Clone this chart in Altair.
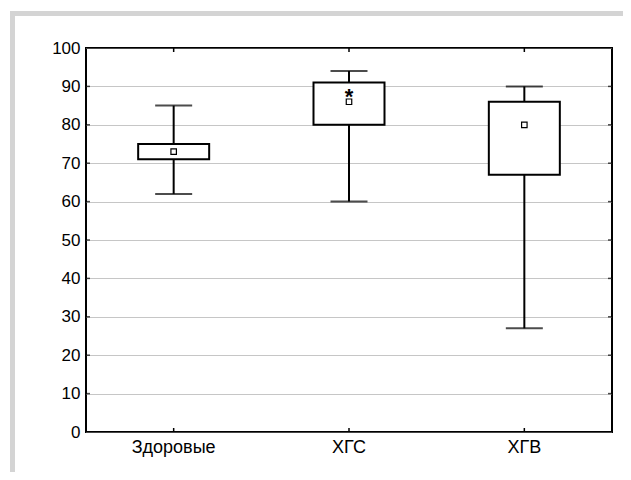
import altair as alt
import pandas as pd

groups = ["Здоровые", "ХГС", "ХГВ"]
whisk_lo = [62, 60, 27]
box_lo = [71, 80, 67]
box_hi = [75, 91, 86]
whisk_hi = [85, 94, 90]
median = [73, 86, 80]
star_group = ["ХГС"]
star_value = [88.5]
y_ticks = [0, 10, 20, 30, 40, 50, 60, 70, 80, 90, 100]

df = pd.DataFrame({"g": groups, "wlo": whisk_lo, "blo": box_lo, "bhi": box_hi,
                   "whi": whisk_hi, "med": median})
star_df = pd.DataFrame({"g": star_group, "v": star_value})
tick_df = pd.DataFrame({"t": y_ticks[1:-1]})

W, H = 526, 384
FONT = "Liberation Sans"

xaxis = alt.Axis(labelAngle=0, labelFontSize=18, labelFont=FONT, labelColor="black",
                 ticks=False, domain=False, labelPadding=6)
xscale = alt.Scale(paddingInner=0, paddingOuter=0)
yscale = alt.Scale(domain=[0, 100], nice=False)
yaxis = alt.Axis(values=y_ticks, labelFontSize=17, labelFont=FONT, labelColor="black",
                 ticks=False, domain=False, labelPadding=6, grid=True,
                 gridColor="#8c8c8c", gridDash=[1, 1], gridWidth=1, labelOverlap=False)


def X():
    return alt.X("g:N", sort=groups, title=None, scale=xscale, axis=xaxis)


def Y(field):
    return alt.Y(field, scale=yscale, axis=yaxis, title=None)


base = alt.Chart(df)

whisk = base.mark_rule(color="black", strokeWidth=2).encode(
    x=X(), y=Y("wlo:Q"), y2="whi:Q")
caps_lo = base.mark_tick(color="black", size=37, thickness=2).encode(x=X(), y=Y("wlo:Q"))
caps_hi = base.mark_tick(color="black", size=37, thickness=2).encode(x=X(), y=Y("whi:Q"))
boxes = base.mark_bar(size=71, fill="white", stroke="black", strokeWidth=2).encode(
    x=X(), y=Y("blo:Q"), y2="bhi:Q")
meds = base.mark_square(size=30, filled=True, fill="white", stroke="black",
                        strokeWidth=1.2, opacity=1).encode(x=X(), y=Y("med:Q"))
star = alt.Chart(star_df).mark_text(text="*", fontSize=22, font=FONT, fontWeight="bold",
                                    color="black", dy=5).encode(x=X(), y=Y("v:Q"))

ticks_l = alt.Chart(tick_df).mark_tick(color="black", size=4, thickness=1.5).encode(
    x=alt.value(2), y=Y("t:Q"))
ticks_r = alt.Chart(tick_df).mark_tick(color="black", size=4, thickness=1.5).encode(
    x=alt.value(W - 2), y=Y("t:Q"))
xt = pd.DataFrame({"g": groups})
xticks_b = alt.Chart(xt).mark_rule(color="black", strokeWidth=1.5).encode(
    x=X(), y=alt.value(H - 4), y2=alt.value(H))
xticks_t = alt.Chart(xt).mark_rule(color="black", strokeWidth=1.5).encode(
    x=X(), y=alt.value(0), y2=alt.value(4))

border_top = alt.Chart(xt).mark_rule(color="#d4d4d4", strokeWidth=5).encode(
    x=alt.value(-76), x2=alt.value(560), y=alt.value(-34.5))
border_left = alt.Chart(xt).mark_rule(color="#d4d4d4", strokeWidth=5).encode(
    x=alt.value(-73.5), y=alt.value(-37), y2=alt.value(470))

chart = alt.layer(
    border_top, border_left, whisk, caps_lo, caps_hi, boxes, meds, star,
    ticks_l, ticks_r, xticks_b, xticks_t
).properties(
    width=W, height=H,
    autosize=alt.AutoSizeParams(type="none"),
    padding={"left": 78, "top": 40, "right": 11, "bottom": 40},
    background="white",
).configure_view(stroke="black", strokeWidth=2)

chart.save("out.html", embed_options={"renderer": "svg", "actions": False})
